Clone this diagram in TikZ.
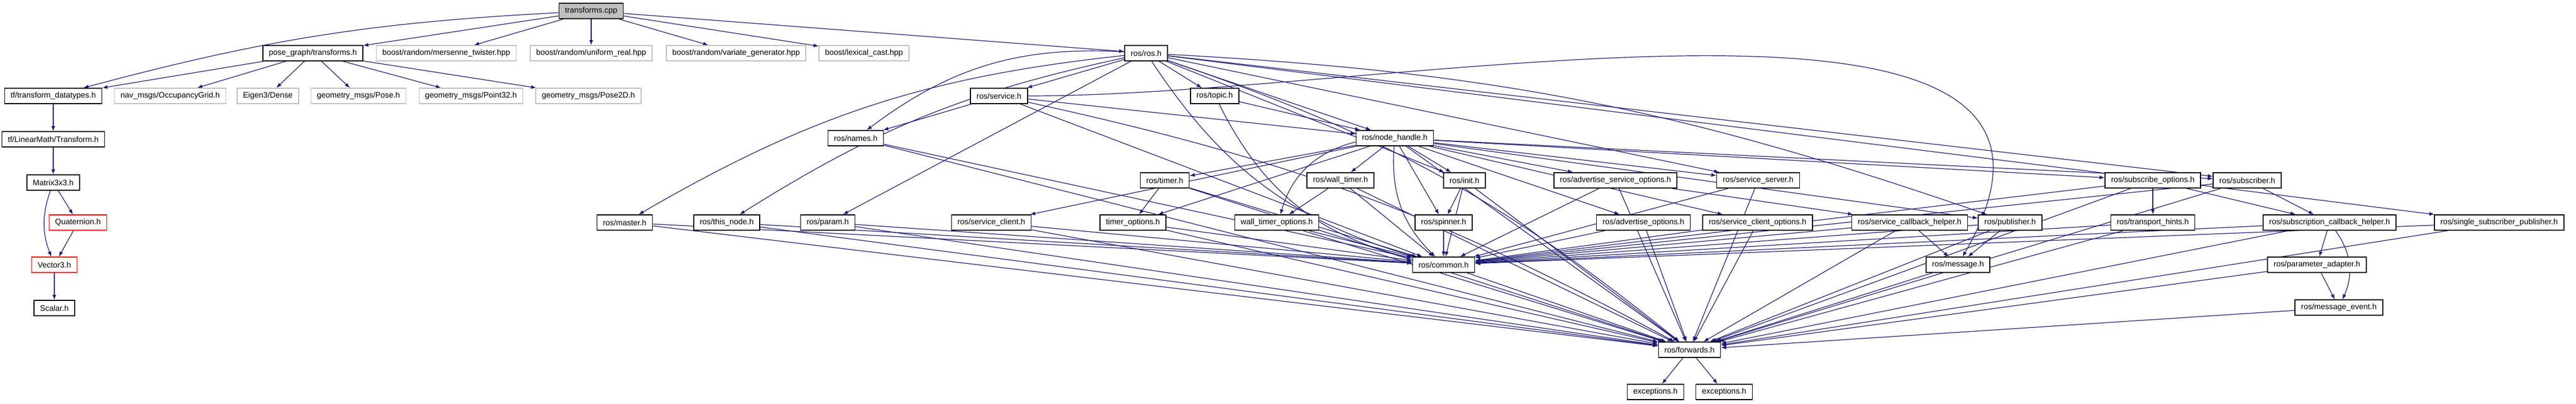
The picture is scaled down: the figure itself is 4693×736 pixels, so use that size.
\documentclass[tikz,border=0pt]{standalone}
\usepackage{fontspec}
\setmainfont{Liberation Sans}
\usetikzlibrary{positioning, arrows, backgrounds}
\definecolor{midnight}{HTML}{191970}
\definecolor{extgray}{HTML}{BFBFBF}
\tikzset{
  file/.style={
    draw, fill=white, line width=0.8pt, minimum height=14pt,
    inner xsep=5.5pt, inner ysep=0pt, font=\fontsize{7.2}{8.5}\selectfont
  },
  extfile/.style={file, draw=extgray},
  cutfile/.style={file, draw=red},
  mainfile/.style={file, fill=extgray},
  dep/.style={midnight, semithick},
  -latex, node distance=24.7pt
}
\begin{document}
\begin{tikzpicture}[x=0.5pt, y=0.5pt]
      \useasboundingbox (0,0) rectangle (4693,-736);

      % row 0 and 1
      \node[mainfile] (cpp) at (1077,-20) {transforms.cpp};
      \node[file] (posegraph) at (570,-97) {pose\_graph/transforms.h};
      \node[extfile] (mersenne) at (813,-97) {boost/random/mersenne\_twister.hpp};
      \node[extfile] (uniform) at (1077,-97) {boost/random/uniform\_real.hpp};
      \node[extfile] (variate) at (1341,-97) {boost/random/variate\_generator.hpp};
      \node[extfile] (lexical) at (1574,-97) {boost/lexical\_cast.hpp};
      \node[file] (ros) at (2088,-97) {ros/ros.h};

      % row 2
      \node[file] (datatypes) at (97,-175) {tf/transform\_datatypes.h};
      \node[extfile] (occupancy) at (310,-175) {nav\_msgs/OccupancyGrid.h};
      \node[extfile] (eigen) at (488,-175) {Eigen3/Dense};
      \node[extfile] (pose) at (653,-175) {geometry\_msgs/Pose.h};
      \node[extfile] (point32) at (858,-175) {geometry\_msgs/Point32.h};
      \node[extfile] (pose2d) at (1072,-175) {geometry\_msgs/Pose2D.h};
      \node[file] (service) at (1820,-175) {ros/service.h};
      \node[file] (topic) at (2213,-175) {ros/topic.h};

      % tf chain
      \node[file, below=of datatypes] (transform) {tf/LinearMath/Transform.h};
      \node[file, below=of transform] (matrix) {Matrix3x3.h};
      \node[cutfile] (quaternion) at (142,-406) {Quaternion.h};
      \node[cutfile] (vector3) at (99,-483) {Vector3.h};
      \node[file, below=of vector3] (scalar) {Scalar.h};

      % row 3 and 4
      \node[file] (names) at (1559,-252) {ros/names.h};
      \node[file] (nodehandle) at (2541,-252) {ros/node\_handle.h};
      \node[file] (timer) at (2122,-329) {ros/timer.h};
      \node[file] (walltimer) at (2442,-329) {ros/wall\_timer.h};
      \node[file] (init) at (2668,-329) {ros/init.h};
      \node[file] (advsrvopts) at (2943,-329) {ros/advertise\_service\_options.h};
      \node[file] (srvserver) at (3203,-329) {ros/service\_server.h};
      \node[file] (subopts) at (3922,-329) {ros/subscribe\_options.h};
      \node[file] (subscriber) at (4094,-329) {ros/subscriber.h};

      % row 5
      \node[file] (master) at (1138,-406) {ros/master.h};
      \node[file] (thisnode) at (1324,-406) {ros/this\_node.h};
      \node[file] (param) at (1508,-406) {ros/param.h};
      \node[file] (srvclient) at (1806,-406) {ros/service\_client.h};
      \node[file] (timeropts) at (2064,-406) {timer\_options.h};
      \node[file] (walltimeropts) at (2326,-406) {wall\_timer\_options.h};
      \node[file] (spinner) at (2630,-406) {ros/spinner.h};
      \node[file] (advopts) at (2994,-406) {ros/advertise\_options.h};
      \node[file] (srvclientopts) at (3202,-406) {ros/service\_client\_options.h};
      \node[file] (srvcbhelper) at (3479,-406) {ros/service\_callback\_helper.h};
      \node[file] (publisher) at (3662,-406) {ros/publisher.h};
      \node[file] (transporthints) at (3922,-406) {ros/transport\_hints.h};
      \node[file] (subcbhelper) at (4244,-406) {ros/subscription\_callback\_helper.h};
      \node[file] (singlesub) at (4553,-406) {ros/single\_subscriber\_publisher.h};

      % rows 6 to 9
      \node[file] (common) at (2630,-483) {ros/common.h};
      \node[file] (message) at (3567,-483) {ros/message.h};
      \node[file] (paramadapter) at (4221,-483) {ros/parameter\_adapter.h};
      \node[file] (msgevent) at (4261,-561) {ros/message\_event.h};
      \node[file] (forwards) at (3078,-638) {ros/forwards.h};
      \node[file] (exc1) at (3016,-715) {exceptions.h};
      \node[file] (exc2) at (3141,-715) {exceptions.h};

      \begin{scope}[on background layer]
      \draw[dep] (cpp) edge[bend right=6] (datatypes)
                 edge (posegraph) edge (mersenne) edge (uniform)
                 edge (variate) edge (lexical) edge (ros)
            (posegraph) edge (datatypes) edge (occupancy) edge (eigen)
                 edge (pose) edge (point32) edge (pose2d)
            (datatypes) edge (transform)
            (transform) edge (matrix)
            (matrix) edge[bend right=20] (vector3) edge (quaternion)
            (quaternion) edge (vector3)
            (vector3) edge (scalar);

      \draw[dep] (ros) edge[bend right=12] (master) edge[bend right=10] (thisnode)
                 edge (param) edge[bend right=20] (names) edge (service)
                 edge (topic) edge (nodehandle) edge[bend right=20] (common)
                 edge[bend left=10] (forwards) edge (init) edge (srvserver)
                 edge[bend left=8] (publisher) edge (subscriber)
                 edge (singlesub)
            (service) edge (names) edge (nodehandle) edge (common)
                 edge[bend left=8] (forwards) edge[out=0, in=60] (message)
            (topic) edge (nodehandle) edge[bend right=25] (common)
            (names) edge (common) edge (forwards)
            (master) edge (common) edge (forwards)
            (thisnode) edge (common) edge (forwards)
            (param) edge (common) edge (forwards);

      \draw[dep] (nodehandle) edge (timer) edge (walltimer) edge (srvclient)
                 edge (timeropts) edge[bend right=30] (walltimeropts)
                 edge (spinner) edge (init) edge[bend right=25] (common)
                 edge (advsrvopts) edge (srvserver) edge (advopts)
                 edge (srvclientopts) edge (subopts) edge (subscriber)
                 edge (publisher) edge (forwards)
            (timer) edge (timeropts) edge (common) edge (forwards)
            (walltimer) edge (walltimeropts) edge (common) edge (forwards)
            (timeropts) edge (common) edge (forwards)
            (walltimeropts) edge (common) edge (forwards)
            (srvclient) edge (common) edge (forwards)
            (init) edge (spinner) edge (common) edge (forwards)
            (spinner) edge (common);

      \draw[dep] (advsrvopts) edge (common) edge (srvcbhelper) edge (forwards)
            (srvserver) edge (common) edge (forwards)
            (advopts) edge (common) edge (forwards)
            (srvclientopts) edge (common) edge (forwards)
            (srvcbhelper) edge (common) edge (message) edge (forwards)
            (publisher) edge (common) edge (message) edge (forwards)
            (subopts) edge (transporthints) edge (subcbhelper)
                 edge (common) edge (forwards)
            (subscriber) edge (subcbhelper) edge (common) edge (forwards)
            (transporthints) edge (common) edge (forwards)
            (subcbhelper) edge (paramadapter) edge[bend left=30] (msgevent)
                 edge (common) edge (forwards)
            (paramadapter) edge (msgevent) edge (forwards)
            (msgevent) edge (forwards)
            (singlesub) edge (common) edge (forwards)
            (message) edge (forwards)
            (common) edge (forwards)
            (forwards) edge (exc1) edge (exc2);
      \end{scope}
\end{tikzpicture}
\end{document}
